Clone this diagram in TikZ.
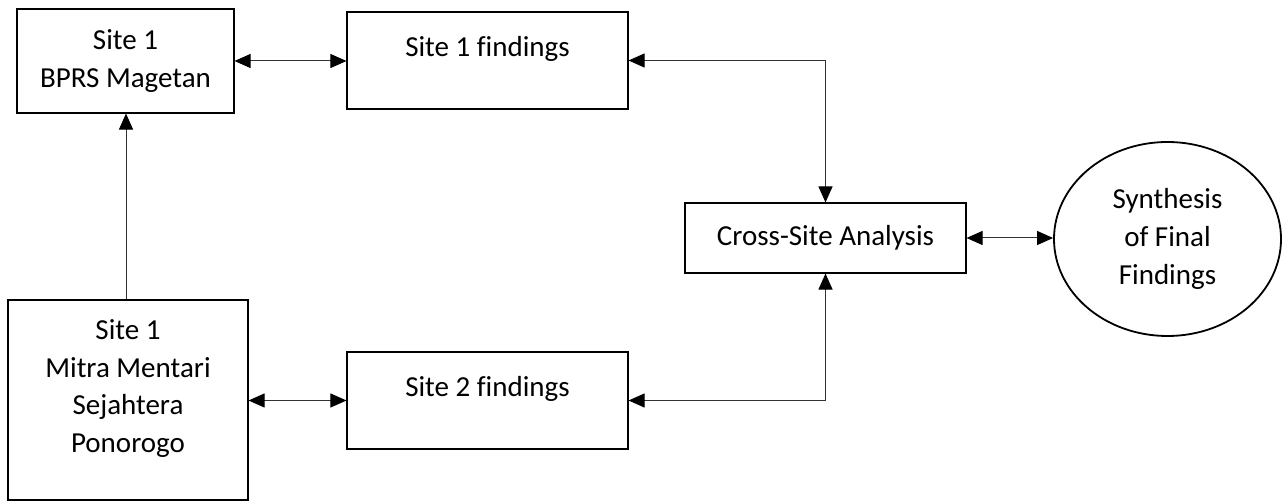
\documentclass[tikz,border=0pt]{standalone}
\usepackage{fontspec}
\setmainfont[Ligatures=NoCommon]{Carlito}
\usetikzlibrary{arrows.meta,shapes.geometric}
\begin{document}
\begin{tikzpicture}[x=1pt,y=-1pt,
  >={Triangle[length=16pt,width=14pt,color=black]},
  lbl/.style={font=\fontsize{29}{37.7}\selectfont,align=center},
  box/.style={draw=black,line width=1.1pt,rectangle,inner sep=0pt,lbl},
  txt/.style={inner sep=0pt,lbl},
  conn/.style={draw=black!80,line width=1pt}]
\useasboundingbox (0,0) rectangle (1283,502);
\node[box,minimum width=217pt,minimum height=104pt] (a) at (125.5,61) {Site 1\\BPRS Magetan};
\node[box,minimum width=240pt,minimum height=200pt] (b) at (128,400) {};
\node[txt] (bt) at (128,388.5) {Site 1\\Mitra Mentari\\Sejahtera\\Ponorogo};
\node[box,minimum width=281pt,minimum height=97pt,text height=20pt,text depth=27pt] (s1) at (487.5,60.5) {Site 1 findings};
\node[box,minimum width=281pt,minimum height=97pt,text height=20pt,text depth=27pt] (s2) at (487.5,400.5) {Site 2 findings};
\node[box,minimum width=281pt,minimum height=70pt] (c) at (825.5,238) {Cross-Site Analysis};
\node[draw=black,ellipse,line width=1.8pt,minimum width=227pt,minimum height=194pt,inner sep=0pt,lbl] (e) at (1167.5,239) {Synthesis\\of Final\\Findings};
\coordinate (vx) at (126,0);
\draw[conn,->] (b.north -| vx) -- (a.south -| vx);
\draw[conn,<->] (a.east) -- (s1.west |- a.east);
\draw[conn,<->] (b.east |- s2.west) -- (s2.west);
\draw[conn,<->] (s1.east) -| (c.north);
\draw[conn,<->] (s2.east) -| (c.south);
\draw[conn,<->] (c.east) -- (e.west |- c.east);
\end{tikzpicture}
\end{document}
